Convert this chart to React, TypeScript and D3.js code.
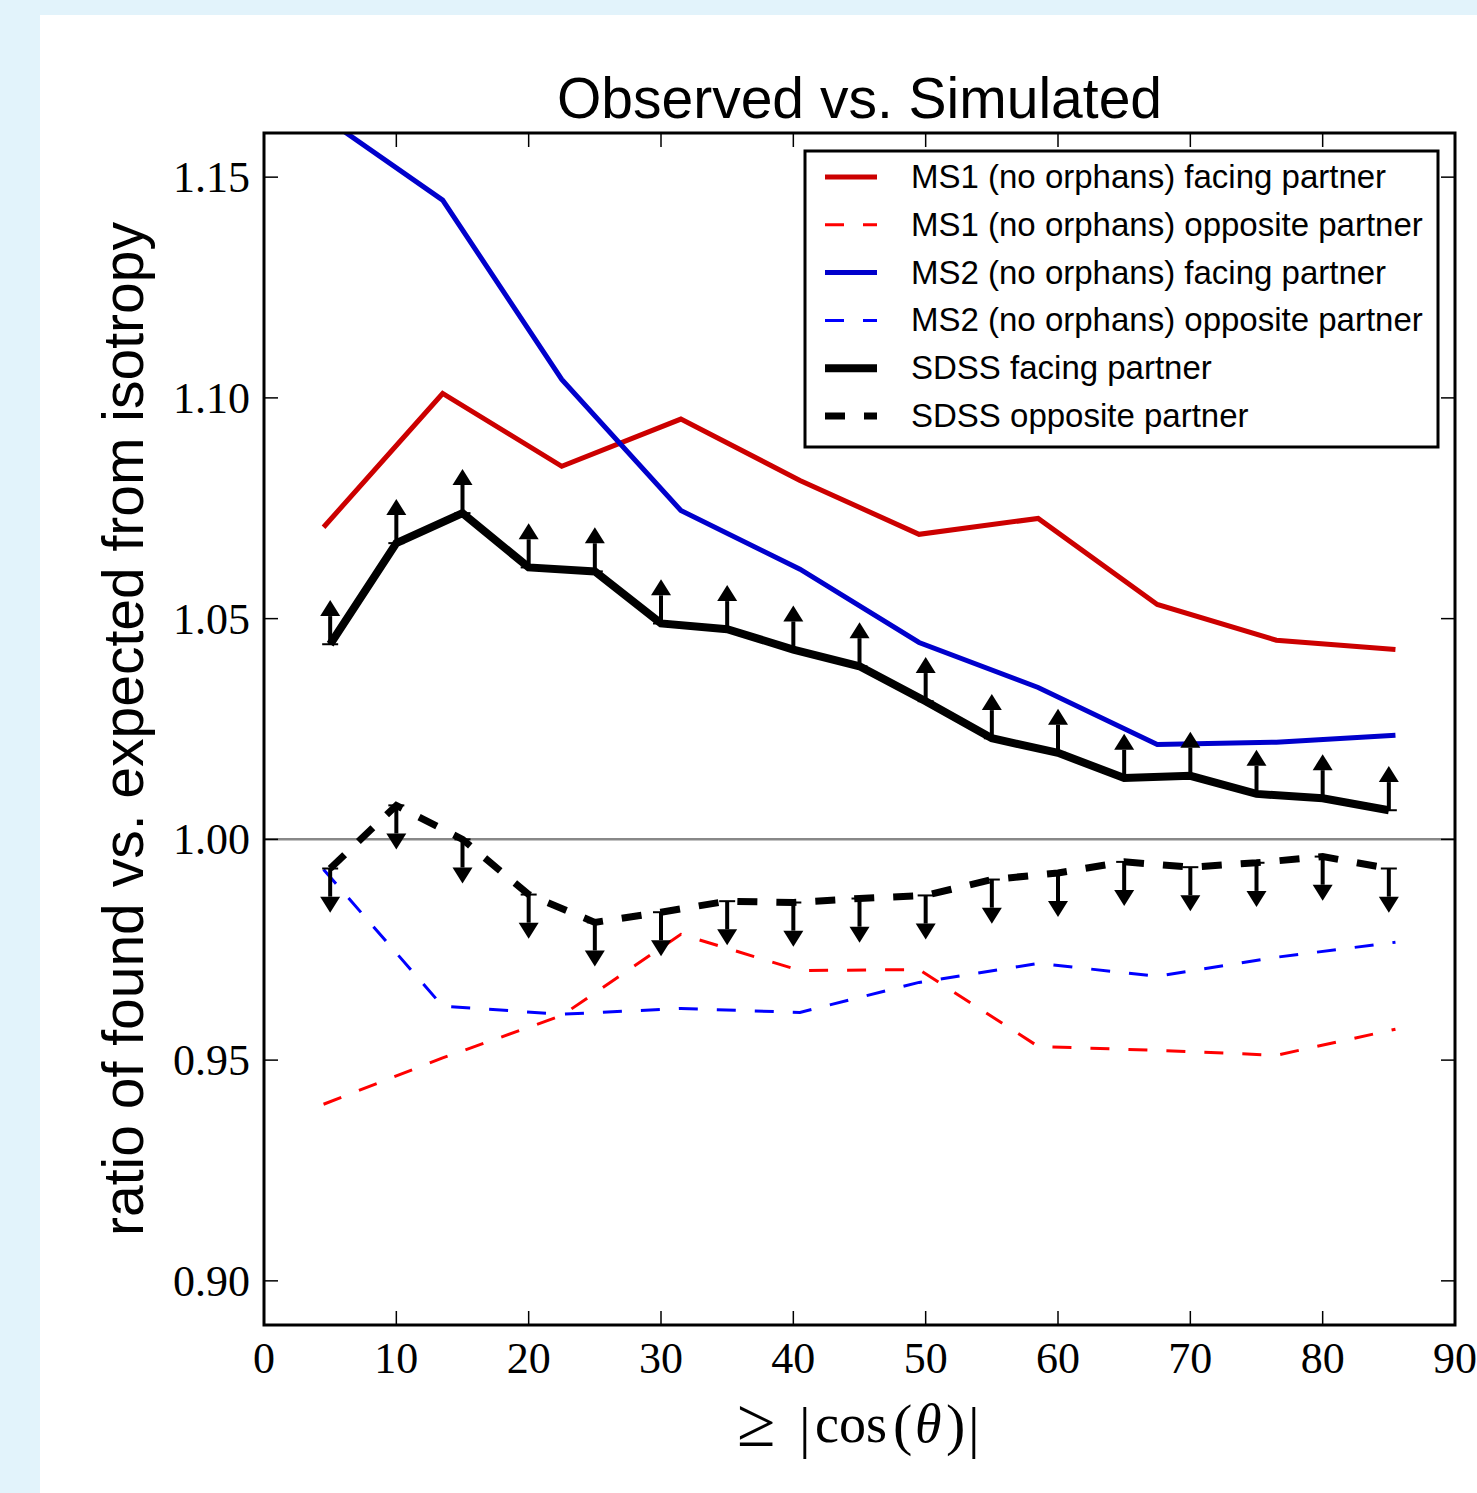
import React from "react";
import * as d3 from "d3";

// ---- data ----
const xTicks = [0, 10, 20, 30, 40, 50, 60, 70, 80, 90];
const yTicks = [0.9, 0.95, 1.0, 1.05, 1.1, 1.15];

const msX = [4.5, 13.5, 22.5, 31.5, 40.5, 49.5, 58.5, 67.5, 76.5, 85.5];
const ms1Facing = [1.0707, 1.101, 1.0845, 1.0952, 1.0813, 1.0691, 1.0727, 1.0532, 1.0451, 1.043];
const ms1Opposite = [0.94, 0.9505, 0.9601, 0.9785, 0.9703, 0.9705, 0.9531, 0.9522, 0.9511, 0.957];
const ms2Facing = [1.1636, 1.1448, 1.1042, 1.0745, 1.0612, 1.0446, 1.0344, 1.0215, 1.022, 1.0236];
const ms2Opposite = [0.9932, 0.9622, 0.9604, 0.9617, 0.9608, 0.9676, 0.9719, 0.969, 0.9733, 0.9767];

const sdssX = [5, 10, 15, 20, 25, 30, 35, 40, 45, 50, 55, 60, 65, 70, 75, 80, 85];
const sdssFacing = [1.0442, 1.0671, 1.0739, 1.0616, 1.0607, 1.0489, 1.0476, 1.043, 1.0392, 1.0313, 1.0229, 1.0196, 1.0139, 1.0144, 1.0103, 1.0093, 1.0066];
const sdssOpposite = [0.9934, 1.0077, 1.0, 0.9875, 0.9812, 0.9835, 0.986, 0.9857, 0.9866, 0.9873, 0.9909, 0.9924, 0.9949, 0.9937, 0.9947, 0.9961, 0.9934];
const limitSize = 0.01;

const titleText = "Observed vs. Simulated";
const yLabelText = "ratio of found vs. expected from isotropy";

type Series = { name: string; xs: number[]; ys: number[]; color: string; width: number; dash?: string };

const seriesList: Series[] = [
  { name: "MS1 (no orphans) facing partner", xs: msX, ys: ms1Facing, color: "#cc0000", width: 5 },
  { name: "MS1 (no orphans) opposite partner", xs: msX, ys: ms1Opposite, color: "#ff0000", width: 3, dash: "19 19" },
  { name: "MS2 (no orphans) facing partner", xs: msX, ys: ms2Facing, color: "#0000cc", width: 5 },
  { name: "MS2 (no orphans) opposite partner", xs: msX, ys: ms2Opposite, color: "#0000ff", width: 3, dash: "19 19" },
  { name: "SDSS facing partner", xs: sdssX, ys: sdssFacing, color: "#000000", width: 8 },
  { name: "SDSS opposite partner", xs: sdssX, ys: sdssOpposite, color: "#000000", width: 7, dash: "20 19" },
];

export default function App() {
  const W = 1477;
  const H = 1493;
  const left = 264, right = 1455, top = 133, bottom = 1325;
  const x = d3.scaleLinear().domain([0, 90]).range([left, right]);
  const y = d3.scaleLinear().domain([0.89, 1.16]).range([bottom, top]);
  const line = (xs: number[], ys: number[]) =>
    d3.line<number>().x((_, i) => x(xs[i])).y((d) => y(d))(ys) || "";

  const serif = "'Liberation Serif', 'Times New Roman', serif";
  const sans = "'Liberation Sans', Arial, Helvetica, sans-serif";
  const tickLen = 14;

  const arrows = (xs: number[], ys: number[], dir: 1 | -1, key: string) =>
    xs.map((xv, i) => {
      const px = x(xv);
      const py = y(ys[i]);
      const tip = y(ys[i] + dir * limitSize);
      const base = tip + dir * 16; // triangle base (toward data point)
      return (
        <g key={key + i}>
          <line x1={px} x2={px} y1={py} y2={base} stroke="#000" strokeWidth={4} />
          <line x1={px - 8} x2={px + 8} y1={py} y2={py} stroke="#000" strokeWidth={2} />
          <path d={`M${px},${tip} L${px - 10},${base} L${px + 10},${base} Z`} fill="#000" />
        </g>
      );
    });

  const legX = 805, legY = 151, legW = 633, legH = 296;
  const rowGap = 47.8;

  return (
    <svg
      width={W}
      height={H}
      style={{ position: "absolute", left: 0, top: 0, display: "block" }}
      xmlns="http://www.w3.org/2000/svg"
    >
      <rect x={0} y={0} width={W} height={H} fill="#e2f3fb" />
      <rect x={40} y={15} width={W - 40} height={H - 15} fill="#ffffff" />

      <defs>
        <clipPath id="plotClip">
          <rect x={left} y={top} width={right - left} height={bottom - top} />
        </clipPath>
      </defs>

      {/* title */}
      <text x={(left + right) / 2} y={118} fontFamily={sans} fontSize={57} textAnchor="middle" fill="#000">
        {titleText}
      </text>

      {/* plot content */}
      <g clipPath="url(#plotClip)">
        <line x1={left} x2={right} y1={y(1.0)} y2={y(1.0)} stroke="#888888" strokeWidth={2.5} />
        {seriesList.map((s) => (
          <path
            key={s.name}
            d={line(s.xs, s.ys)}
            fill="none"
            stroke={s.color}
            strokeWidth={s.width}
            strokeDasharray={s.dash}
            strokeLinejoin="miter"
          />
        ))}
        {arrows(sdssX, sdssFacing, 1, "up")}
        {arrows(sdssX, sdssOpposite, -1, "dn")}
      </g>

      {/* ticks */}
      {xTicks.map((t) => (
        <g key={"xt" + t}>
          <line x1={x(t)} x2={x(t)} y1={bottom} y2={bottom - tickLen} stroke="#000" strokeWidth={1.5} />
          <line x1={x(t)} x2={x(t)} y1={top} y2={top + tickLen} stroke="#000" strokeWidth={1.5} />
          <text x={x(t)} y={1373} fontFamily={serif} fontSize={44} textAnchor="middle" fill="#000">
            {t}
          </text>
        </g>
      ))}
      {yTicks.map((t) => (
        <g key={"yt" + t}>
          <line x1={left} x2={left + tickLen} y1={y(t)} y2={y(t)} stroke="#000" strokeWidth={1.5} />
          <line x1={right} x2={right - tickLen} y1={y(t)} y2={y(t)} stroke="#000" strokeWidth={1.5} />
          <text x={250} y={y(t) + 15} fontFamily={serif} fontSize={44} textAnchor="end" fill="#000">
            {t.toFixed(2)}
          </text>
        </g>
      ))}

      {/* frame */}
      <rect x={left} y={top} width={right - left} height={bottom - top} fill="none" stroke="#000" strokeWidth={3} />

      {/* x label */}
      <g fontFamily={serif} fill="#000">
        <text x={737} y={1446} fontSize={70}>≥</text>
        <text x={799} y={1447} fontSize={58}>|</text>
        <text x={815} y={1442} fontSize={54}>cos</text>
        <text x={893} y={1444} fontSize={58}>(</text>
        <text x={915} y={1442} fontSize={54} fontStyle="italic">θ</text>
        <text x={946} y={1444} fontSize={58}>)</text>
        <text x={968} y={1447} fontSize={58}>|</text>
      </g>

      {/* y label */}
      <text
        transform={`translate(143, ${(top + bottom) / 2}) rotate(-90)`}
        fontFamily={sans}
        fontSize={57}
        textAnchor="middle"
        fill="#000"
      >
        {yLabelText}
      </text>

      {/* legend */}
      <rect x={legX} y={legY} width={legW} height={legH} fill="#fff" stroke="#000" strokeWidth={3} />
      {seriesList.map((s, i) => {
        const ry = 177 + i * rowGap;
        return (
          <g key={"lg" + i}>
            <line
              x1={825}
              x2={877}
              y1={ry}
              y2={ry}
              stroke={s.color}
              strokeWidth={s.width}
              strokeDasharray={s.dash}
            />
            <text x={911} y={ry + 11} fontFamily={sans} fontSize={33} fill="#000">
              {s.name}
            </text>
          </g>
        );
      })}
    </svg>
  );
}
